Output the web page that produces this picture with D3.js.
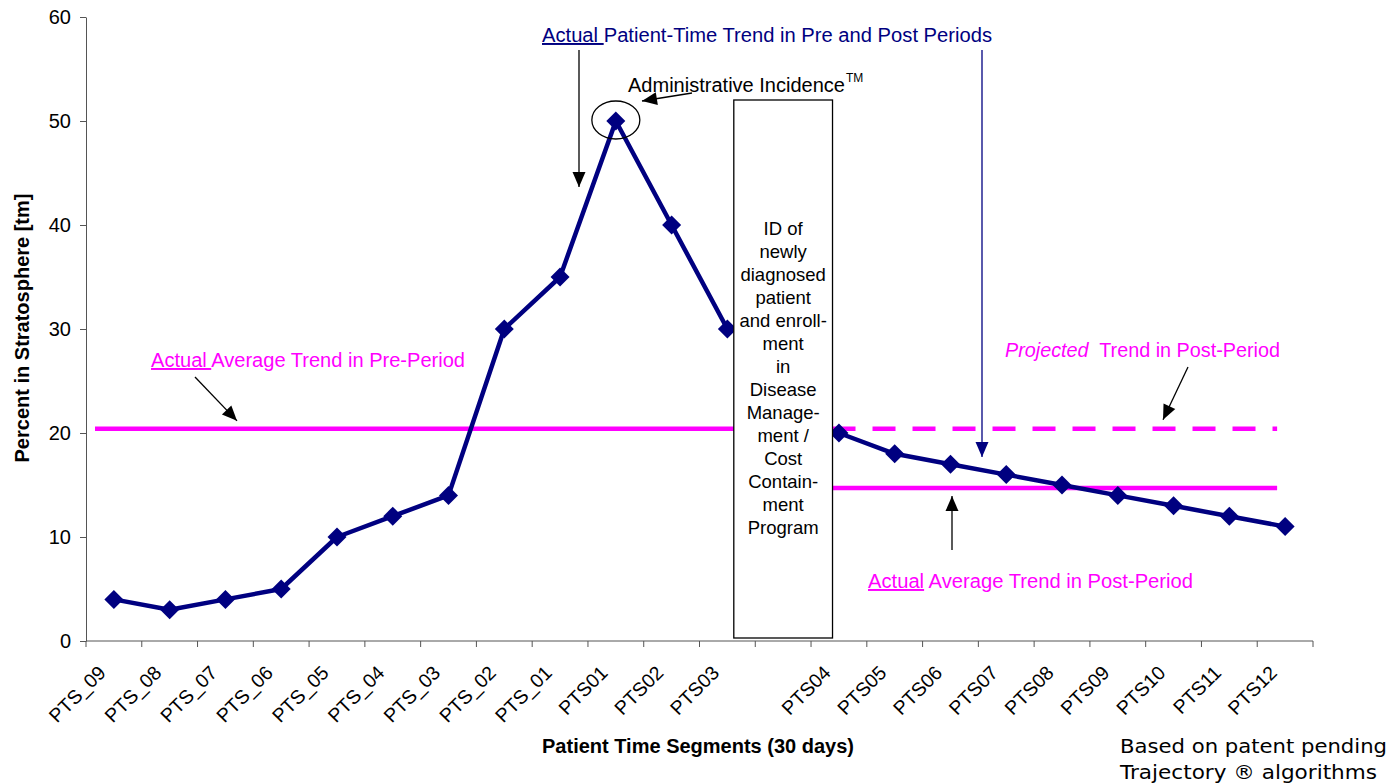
<!DOCTYPE html>
<html><head><meta charset="utf-8">
<script src="https://cdn.jsdelivr.net/npm/d3@7"></script>
<style>
html,body{margin:0;padding:0;background:#fff;}
svg{display:block;}
</style></head>
<body>
<svg id="chart" width="1392" height="784"></svg>
<script>
// ---- data ----
const categories = ["PTS_09","PTS_08","PTS_07","PTS_06","PTS_05","PTS_04","PTS_03","PTS_02","PTS_01","PTS01","PTS02","PTS03","","PTS04","PTS05","PTS06","PTS07","PTS08","PTS09","PTS10","PTS11","PTS12"];
const values = [4,3,4,5,10,12,14,30,35,50,40,30,null,20,18,17,16,15,14,13,12,11];
const yTicks = [0,10,20,30,40,50,60];
const preAverage = 20.4;
const postAverage = 14.7;
const projectedTrend = 20.4;
const programIndex = 12;
const peakIndex = 9;
const programLines = ["ID of","newly","diagnosed","patient","and enroll-","ment","in","Disease","Manage-","ment /","Cost","Contain-","ment","Program"];
const yTitle = "Percent in Stratosphere [tm]";
const xTitle = "Patient Time Segments (30 days)";
const footnote = ["Based on patent pending","Trajectory \u00AE algorithms"];

// ---- layout ----
const svg = d3.select("#chart");
const pLeft = 86, pRight = 1313, pTop = 17, pBottom = 641;
const NAVY = "#000080", MAG = "#FF00FF", AX = "#555";
const FONT = "'Liberation Sans', Arial, sans-serif";

const x = d3.scaleBand().domain(d3.range(categories.length)).range([pLeft, pRight]).padding(0);
const bw = x.bandwidth();
const cx = i => x(i) + bw / 2;
const y = d3.scaleLinear().domain([0, 60]).range([pBottom, pTop]);

// y axis
const yg = svg.append("g").attr("transform", `translate(${pLeft},0)`)
  .call(d3.axisLeft(y).tickValues(yTicks).tickSize(6).tickPadding(9).tickSizeOuter(0));
yg.select(".domain").attr("stroke", AX);
yg.selectAll(".tick line").attr("stroke", AX);
yg.selectAll(".tick text").attr("font-family", FONT).attr("font-size", 20).attr("fill", "#000");

// x axis
const xg = svg.append("g");
xg.append("line").attr("x1", pLeft).attr("x2", pRight).attr("y1", pBottom).attr("y2", pBottom).attr("stroke", AX);
xg.selectAll("line.t").data(d3.range(categories.length + 1)).join("line").attr("class", "t")
  .attr("x1", i => pLeft + i * bw).attr("x2", i => pLeft + i * bw)
  .attr("y1", pBottom).attr("y2", pBottom + 6).attr("stroke", AX);
xg.selectAll("text").data(categories.map((c, i) => ({c, i})).filter(d => d.c !== "")).join("text")
  .attr("transform", d => `translate(${cx(d.i) - 7},674) rotate(-45)`)
  .attr("text-anchor", "end").attr("font-family", FONT).attr("font-size", 19.5).text(d => d.c);

// axis titles
svg.append("text").attr("transform", "translate(29,328) rotate(-90)").attr("text-anchor", "middle")
  .attr("font-family", FONT).attr("font-weight", "bold").attr("font-size", 20).text(yTitle);
svg.append("text").attr("x", 698).attr("y", 753).attr("text-anchor", "middle")
  .attr("font-family", FONT).attr("font-weight", "bold").attr("font-size", 20).text(xTitle);

// box geometry
const boxL = cx(programIndex) - 0.885 * bw, boxR = cx(programIndex) + 0.885 * bw;

// average lines
svg.append("line").attr("x1", x(0) + 9).attr("x2", boxL).attr("y1", y(preAverage)).attr("y2", y(preAverage))
  .attr("stroke", MAG).attr("stroke-width", 4.5);
const lastX = cx(categories.length - 1) - 8;
svg.append("line").attr("x1", boxR).attr("x2", lastX).attr("y1", y(projectedTrend)).attr("y2", y(projectedTrend))
  .attr("stroke", MAG).attr("stroke-width", 4.5).attr("stroke-dasharray", "23,17");
svg.append("line").attr("x1", boxR).attr("x2", lastX).attr("y1", y(postAverage)).attr("y2", y(postAverage))
  .attr("stroke", MAG).attr("stroke-width", 4.5);

// series
const line = d3.line().defined(d => d != null).x((d, i) => cx(i)).y(d => y(d));
svg.append("path").attr("d", line(values)).attr("fill", "none").attr("stroke", NAVY)
  .attr("stroke-width", 4.5).attr("stroke-linejoin", "round");
svg.selectAll("path.m").data(values.map((v, i) => ({v, i})).filter(d => d.v != null)).join("path")
  .attr("class", "m").attr("d", "M0,-9.5L9.5,0L0,9.5L-9.5,0Z").attr("fill", NAVY)
  .attr("transform", d => `translate(${cx(d.i)},${y(d.v)})`);

// program box
svg.append("rect").attr("x", boxL).attr("y", 100).attr("width", boxR - boxL).attr("height", pBottom - 3 - 100)
  .attr("fill", "#fff").attr("stroke", "#000").attr("stroke-width", 1.3);
svg.append("g").selectAll("text").data(programLines).join("text")
  .attr("x", cx(programIndex)).attr("y", (d, i) => 235 + i * 23).attr("text-anchor", "middle")
  .attr("font-family", FONT).attr("font-size", 18.5).text(d => d);

// arrows
function arrow(x1, y1, x2, y2, color, w) {
  svg.append("line").attr("x1", x1).attr("y1", y1).attr("x2", x2).attr("y2", y2)
    .attr("stroke", color).attr("stroke-width", w);
  const a = Math.atan2(y2 - y1, x2 - x1), L = 15, H = 6.5;
  const bx = x2 - L * Math.cos(a), by = y2 - L * Math.sin(a);
  const px = -Math.sin(a) * H, py = Math.cos(a) * H;
  svg.append("path").attr("d", `M${x2},${y2}L${bx + px},${by + py}L${bx - px},${by - py}Z`).attr("fill", color);
}
arrow(579, 50, 579, 187, "#000", 1.3);
arrow(982, 50, 982, 457, NAVY, 1.3);
arrow(692, 93, 642, 101, "#000", 1.3);
arrow(195, 377, 237, y(preAverage) - 8, "#000", 1.3);
arrow(1188, 367, 1163, y(projectedTrend) - 9, "#000", 1.3);
arrow(952, 550, 952, y(postAverage) + 8, "#000", 1.3);

// peak circle
svg.append("ellipse").attr("cx", cx(peakIndex)).attr("cy", y(50) - 1).attr("rx", 24).attr("ry", 19)
  .attr("fill", "none").attr("stroke", "#000").attr("stroke-width", 1.3);

// annotation texts
function label(xp, yp, color, parts, len) {
  const t = svg.append("text").attr("x", xp).attr("y", yp).attr("font-family", FONT).attr("font-size", 19.5)
    .attr("fill", color).style("white-space", "pre");
  parts.forEach(p => {
    const s = t.append("tspan").text(p.t);
    if (p.u) s.attr("text-decoration", "underline");
    if (p.i) s.attr("font-style", "italic");
  });
  if (len) t.attr("textLength", len).attr("lengthAdjust", "spacingAndGlyphs");
  return t;
}
label(542, 42, NAVY, [{t: "Actual ", u: true}, {t: "Patient-Time Trend in Pre and Post Periods"}], 450);
label(628, 92, "#000", [{t: "Administrative Incidence"}], 217);
svg.append("text").attr("x", 846).attr("y", 82).attr("font-family", FONT).attr("font-size", 12).text("TM");
label(151, 367, MAG, [{t: "Actual ", u: true}, {t: "Average Trend in Pre-Period"}], 314);
label(1005, 357, MAG, [{t: "Projected", i: true}, {t: "  Trend in Post-Period"}], 275);
label(868, 588, MAG, [{t: "Actual", u: true}, {t: " Average Trend in Post-Period"}], 325);

// footnote
svg.append("g").selectAll("text").data(footnote).join("text")
  .attr("x", 1120).attr("y", (d, i) => 753 + i * 26)
  .attr("font-family", "'DejaVu Sans', Verdana, sans-serif").attr("font-size", 19)
  .attr("textLength", (d, i) => i === 0 ? 267 : 257).attr("lengthAdjust", "spacingAndGlyphs")
  .text(d => d);
</script>
</body></html>
